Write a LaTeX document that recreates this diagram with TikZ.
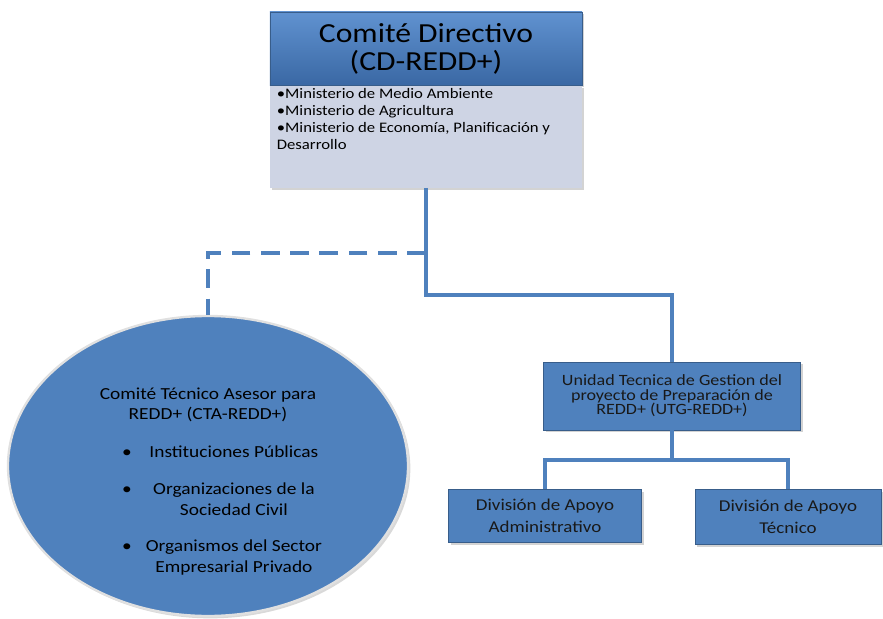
\documentclass[tikz,border=0pt]{standalone}
\usepackage{fontspec}
\setmainfont[FakeStretch=1.15]{Carlito}
\usetikzlibrary{shapes.geometric,shadows}

\definecolor{boxblue}{RGB}{79,129,189}
\definecolor{headtop}{RGB}{96,146,208}
\definecolor{headbot}{RGB}{58,104,164}
\definecolor{listgray}{RGB}{206,212,228}
\definecolor{edgeblue}{RGB}{56,93,138}

\tikzset{
    conn/.style={draw=boxblue, line width=3.4pt},
    unitbox/.style={rectangle, fill=boxblue, draw=edgeblue, line width=0.6pt,
        drop shadow={opacity=0.35, shadow xshift=2pt, shadow yshift=-2pt},
        align=center, text=black!90}
}

\begin{document}
\begin{tikzpicture}[x=0.03cm, y=-0.03cm]
            \useasboundingbox (0,0) rectangle (883,619);

            \node[rectangle, top color=headtop, bottom color=headbot, draw=edgeblue,
                line width=0.6pt, minimum width=9.36cm, minimum height=2.19cm,
                drop shadow={opacity=0.35, shadow xshift=2pt, shadow yshift=-2pt},
                align=center, font=\fontsize{23.5}{24}\selectfont] (cd) at (426,48.5)
                {Comité Directivo\\(CD-REDD+)};
            \node[rectangle, fill=listgray, minimum width=9.36cm, minimum height=3.06cm,
                anchor=north, inner sep=0pt,
                drop shadow={opacity=0.35, shadow xshift=2pt, shadow yshift=-2pt},
                font=\fontsize{12.4}{14.6}\selectfont] (cdlist) at (cd.south)
                {\parbox[c][2.9cm][t]{8.95cm}{\raggedright
                    \textbullet Ministerio de Medio Ambiente\\
                    \textbullet Ministerio de Agricultura\\
                    \textbullet Ministerio de Economía, Planificación y\\
                    Desarrollo}};

            \node[ellipse, fill=boxblue, draw=black!12, line width=2pt,
                minimum width=12cm, minimum height=9cm, inner sep=0pt,
                drop shadow={opacity=0.3, shadow xshift=2pt, shadow yshift=-2pt},
                font=\fontsize{14.4}{17.5}\selectfont] (cta) at (208,466)
                {\raisebox{-17pt}[0pt][0pt]{\begin{tabular}{@{\hspace{25pt}}r@{\hspace{11pt}}c@{}}
                    \multicolumn{2}{c}{Comité Técnico Asesor para}\\
                    \multicolumn{2}{c}{REDD+ (CTA-REDD+)}\\[15pt]
                    \textbullet & Instituciones Públicas\\[14pt]
                    \textbullet & Organizaciones de la\\
                                & Sociedad Civil\\[14pt]
                    \textbullet & Organismos del Sector\\
                                & Empresarial Privado
                \end{tabular}}};

            \node[unitbox, minimum width=7.71cm, minimum height=2.04cm,
                font=\fontsize{13.4}{12.4}\selectfont] (utg) at (672,396)
                {Unidad Tecnica de Gestion del\\proyecto de Preparación de\\REDD+ (UTG-REDD+)};
            \node[unitbox, minimum width=5.79cm, minimum height=1.59cm,
                font=\fontsize{14.1}{18.5}\selectfont] (adm) at (545,516)
                {División de Apoyo\\Administrativo};
            \node[unitbox, minimum width=5.58cm, minimum height=1.65cm,
                font=\fontsize{14.1}{18.5}\selectfont] (tec) at (788,517)
                {División de Apoyo\\Técnico};

            \coordinate (j1) at (426,295);
            \coordinate (j2) at (672,460);
            \draw[conn] (cdlist.south) -- (j1) -| (utg.north);
            \draw[conn, dash pattern=on 16pt off 9pt] (cdlist.south |- 0,253) -| (cta.north);
            \draw[conn] (utg.south) -- (j2);
            \draw[conn] (adm.north) |- (j2) -| (tec.north);
        \end{tikzpicture}
\end{document}
